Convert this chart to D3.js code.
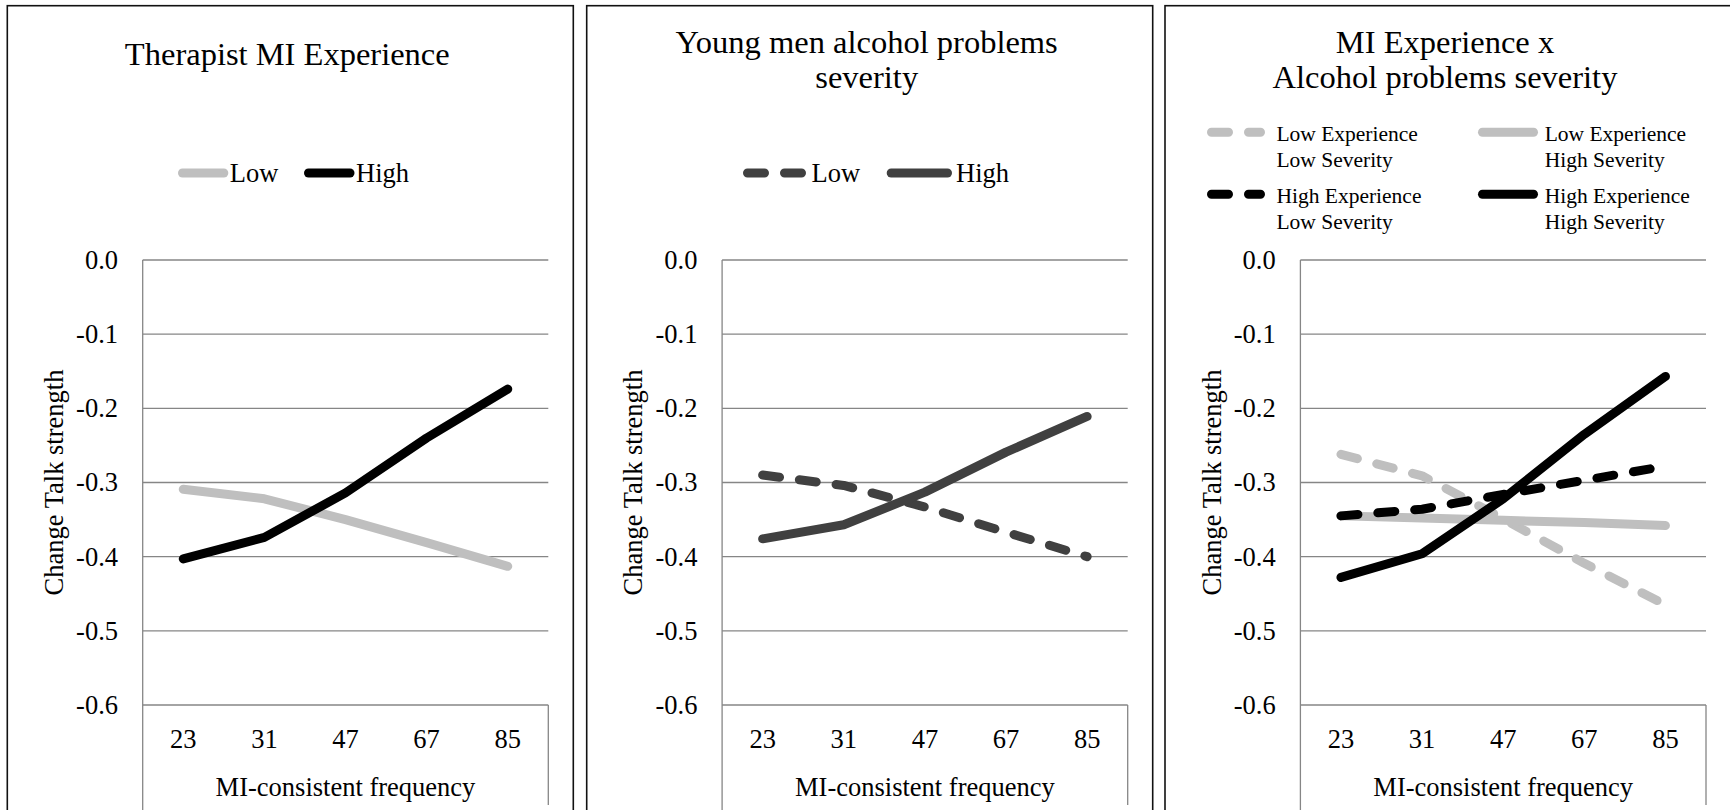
<!DOCTYPE html>
<html>
<head>
<meta charset="utf-8">
<script src="https://cdn.jsdelivr.net/npm/d3@7"></script>
<style>
  html, body { margin: 0; padding: 0; background: #fff; }
  svg { display: block; }
  text { font-family: "Liberation Serif", "Times New Roman", serif; fill: #000; }
</style>
</head>
<body>
<svg id="chart" width="1730" height="810"></svg>
<script>
// ---------------- DATA ----------------
const categories = ["23", "31", "47", "67", "85"];
const yTickValues = [0.0, -0.1, -0.2, -0.3, -0.4, -0.5, -0.6];
const xAxisTitle = "MI-consistent frequency";
const yAxisTitle = "Change Talk strength";

const panel1Title = ["Therapist MI Experience"];
const panel1Names = ["Low", "High"];
const p1Low  = [-0.309, -0.322, -0.350, -0.381, -0.413];
const p1High = [-0.403, -0.374, -0.314, -0.240, -0.174];

const panel2Title = ["Young men alcohol problems", "severity"];
const panel2Names = ["Low", "High"];
const p2Low  = [-0.290, -0.304, -0.333, -0.367, -0.400];
const p2High = [-0.376, -0.357, -0.313, -0.259, -0.211];

const panel3Title = ["MI Experience x", "Alcohol problems severity"];
const panel3Names = [["Low Experience", "Low Severity"], ["Low Experience", "High Severity"],
                     ["High Experience", "Low Severity"], ["High Experience", "High Severity"]];
const p3LowExpLowSev   = [-0.262, -0.291, -0.349, -0.409, -0.465];
const p3LowExpHighSev  = [-0.345, -0.348, -0.351, -0.354, -0.358];
const p3HighExpLowSev  = [-0.345, -0.336, -0.316, -0.297, -0.278];
const p3HighExpHighSev = [-0.428, -0.396, -0.322, -0.235, -0.157];

// ---------------- STYLE ----------------
const LIGHT = "#bfbfbf", BLACK = "#000000", DARK = "#404040", GRID = "#868686";
const DASH = "17,20";
const LW = 9;
const fmt = d3.formatLocale({decimal: ".", thousands: ",", grouping: [3], currency: ["", ""], minus: "-"}).format(".1f");

const svg = d3.select("#chart");

const panels = [
  { left: 7.3, title: panel1Title, legend: "row",
    series: [
      {name: panel1Names[0], values: p1Low,  color: LIGHT, dash: null},
      {name: panel1Names[1], values: p1High, color: BLACK, dash: null}
    ],
    legendPos: [{sw: [170.7, 221], tx: 222.5}, {sw: [296.7, 347.2], tx: 348.7}]
  },
  { left: 586.7, title: panel2Title, legend: "row",
    series: [
      {name: panel2Names[0], values: p2Low,  color: DARK, dash: DASH},
      {name: panel2Names[1], values: p2High, color: DARK, dash: null}
    ],
    legendPos: [{sw: [156.3, 221.1], tx: 224.8}, {sw: [300, 365.3], tx: 369.3}]
  },
  { left: 1165, title: panel3Title, legend: "grid",
    series: [
      {name: panel3Names[0], values: p3LowExpLowSev,   color: LIGHT, dash: DASH},
      {name: panel3Names[1], values: p3LowExpHighSev,  color: LIGHT, dash: null},
      {name: panel3Names[2], values: p3HighExpLowSev,  color: BLACK, dash: DASH},
      {name: panel3Names[3], values: p3HighExpHighSev, color: BLACK, dash: null}
    ]
  }
];

const PANEL_W = 566, PANEL_TOP = 5.7;
const PLOT_OFF = 135.4, PLOT_W = 405.6;
const yScale = d3.scaleLinear().domain([-0.6, 0]).range([705, 260]);

panels.forEach(p => {
  const g = svg.append("g");
  // panel border
  g.append("rect")
    .attr("x", p.left).attr("y", PANEL_TOP)
    .attr("width", PANEL_W).attr("height", 900)
    .attr("fill", "none").attr("stroke", "#111").attr("stroke-width", 1.6);

  const x0 = p.left + PLOT_OFF, x1 = x0 + PLOT_W;
  const xScale = d3.scaleBand().domain(categories).range([x0, x1]);
  const cx = c => xScale(c) + xScale.bandwidth() / 2;

  // gridlines
  g.append("g").selectAll("line").data(yTickValues).join("line")
    .attr("x1", x0).attr("x2", x1)
    .attr("y1", d => yScale(d)).attr("y2", d => yScale(d))
    .attr("stroke", GRID).attr("stroke-width", 1.3);
  // left axis line and right bottom box line
  g.append("line").attr("x1", x0).attr("x2", x0).attr("y1", yScale(0)).attr("y2", 810)
    .attr("stroke", GRID).attr("stroke-width", 1.3);
  g.append("line").attr("x1", x1).attr("x2", x1).attr("y1", yScale(-0.6)).attr("y2", 805)
    .attr("stroke", GRID).attr("stroke-width", 1.3);

  // y axis labels
  const ya = g.append("g").attr("transform", `translate(${x0},0)`)
    .call(d3.axisLeft(yScale).tickValues(yTickValues).tickFormat(fmt).tickSize(0).tickPadding(24.7));
  ya.select(".domain").remove();
  ya.selectAll("text").attr("font-size", 26.5).attr("font-family", "Liberation Serif").attr("fill", "#000");

  // x axis labels
  const xa = g.append("g").attr("transform", `translate(0,${yScale(-0.6)})`)
    .call(d3.axisBottom(xScale).tickSize(0).tickPadding(24));
  xa.select(".domain").remove();
  xa.selectAll("text").attr("font-size", 26.5).attr("font-family", "Liberation Serif").attr("fill", "#000");

  // axis titles
  g.append("text").attr("x", (x0 + x1) / 2).attr("y", 796)
    .attr("text-anchor", "middle").attr("font-size", 26.5).text(xAxisTitle);
  g.append("text")
    .attr("transform", `translate(${p.left + 55.5},${(yScale(0) + yScale(-0.6)) / 2}) rotate(-90)`)
    .attr("text-anchor", "middle").attr("font-size", 26.5).text(yAxisTitle);

  // chart title
  const tcx = p.left + PANEL_W / 2 - 3;
  const tys = p.title.length === 1 ? [65] : [53, 88];
  p.title.forEach((t, i) => {
    g.append("text").attr("x", tcx).attr("y", tys[i]).attr("text-anchor", "middle")
      .attr("font-size", 32.5).text(t);
  });

  // series lines
  const line = d3.line().x((d, i) => cx(categories[i])).y(d => yScale(d));
  p.series.forEach(s => {
    g.append("path").datum(s.values).attr("d", line)
      .attr("fill", "none").attr("stroke", s.color).attr("stroke-width", LW)
      .attr("stroke-linecap", "round").attr("stroke-linejoin", "round")
      .attr("stroke-dasharray", s.dash);
  });

  // legends
  if (p.legend === "row") {
    const ly = 173;
    p.series.forEach((s, i) => {
      const lp = p.legendPos[i];
      g.append("line")
        .attr("x1", p.left + lp.sw[0] + LW / 2).attr("x2", p.left + lp.sw[1] - LW / 2)
        .attr("y1", ly).attr("y2", ly)
        .attr("stroke", s.color).attr("stroke-width", LW).attr("stroke-linecap", "round")
        .attr("stroke-dasharray", s.dash);
      g.append("text").attr("x", p.left + lp.tx).attr("y", ly).attr("dy", "0.35em")
        .attr("font-size", 26.5).text(s.name);
    });
  } else {
    const cols = [{sw: [42, 100], tx: 111.4}, {sw: [313, 373], tx: 379.7}];
    const rows = [{sy: 132.3, ty: [133, 159]}, {sy: 194.3, ty: [195, 221.5]}];
    p.series.forEach((s, i) => {
      const c = cols[i % 2], r = rows[Math.floor(i / 2)];
      g.append("line")
        .attr("x1", p.left + c.sw[0] + LW / 2).attr("x2", p.left + c.sw[1] - LW / 2)
        .attr("y1", r.sy).attr("y2", r.sy)
        .attr("stroke", s.color).attr("stroke-width", LW).attr("stroke-linecap", "round")
        .attr("stroke-dasharray", s.dash);
      s.name.forEach((t, j) => {
        g.append("text").attr("x", p.left + c.tx).attr("y", r.ty[j]).attr("dy", "0.35em")
          .attr("font-size", 21.5).text(t);
      });
    });
  }
});
</script>
</body>
</html>
